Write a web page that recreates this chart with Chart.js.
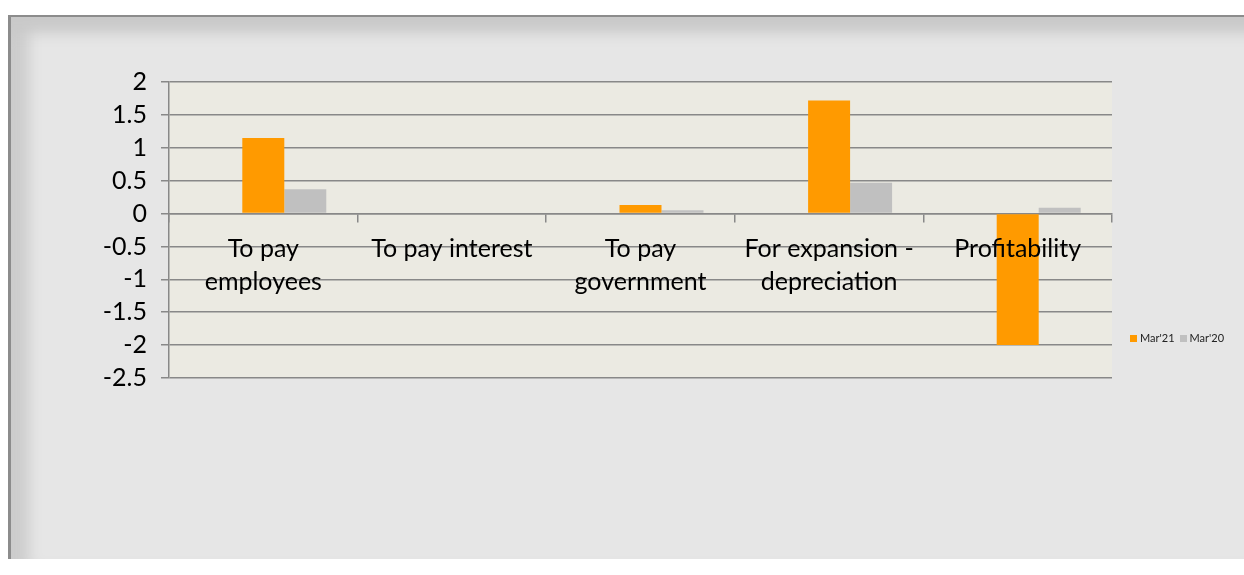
<!DOCTYPE html>
<html>
<head>
<meta charset="utf-8">
<script src="https://cdn.jsdelivr.net/npm/chart.js@4.4.1/dist/chart.umd.min.js"></script>
<style>
  html, body { margin: 0; padding: 0; background: #fff; }
  body { width: 1244px; height: 575px; position: relative; overflow: hidden; }
  #frame {
    position: absolute; left: 8px; top: 15px; width: 1250px; height: 542px;
    background: #e6e6e6;
    border-top: 2px solid #8c8c8c; border-left: 3px solid #8c8c8c;
    box-shadow: inset 0 26px 14px -10px #c9c9c9, inset 28px 0 14px -10px #cdcdcd;
  }
  #wrap { position: absolute; left: 0; top: 0; width: 1244px; height: 575px; }
  #legend {
    position: absolute; left: 1130px; top: 331px;
    font-family: Lato, "Liberation Sans", sans-serif; font-size: 11px; color: #222;
    display: flex; gap: 5px; white-space: nowrap;
  }
  #legend span.box { display: inline-block; width: 7px; height: 7px; margin-right: 3px; }
</style>
</head>
<body>
<div id="frame"></div>
<div id="wrap"><canvas id="c" width="1244" height="575"></canvas></div>
<div id="legend"></div>
<script>
  // values
  const categories = [["To pay", "employees"], "To pay interest", ["To pay", "government"], ["For expansion -", "depreciation"], "Profitability"];
  const mar21 = [1.15, 0, 0.13, 1.72, -2.0];
  const mar20 = [0.37, 0, 0.05, 0.47, 0.09];
  const seriesNames = ["Mar'21", "Mar'20"];
  const colors = ["#ff9a00", "#c0c0c0"];

  const plotBg = {
    id: "plotBg",
    beforeDraw(chart) {
      const a = chart.chartArea, ctx = chart.ctx;
      ctx.save();
      ctx.fillStyle = "#ebeae2";
      ctx.fillRect(a.left, a.top, a.right - a.left, a.bottom - a.top);
      ctx.restore();
    }
  };

  const font = { family: "Lato, 'Liberation Sans', sans-serif", size: 25, lineHeight: 1.32 };

  window.onload = function () {
    const ctx = document.getElementById("c").getContext("2d");
    const chart = new Chart(ctx, {
      type: "bar",
      data: {
        labels: categories,
        datasets: [
          // the original chart keeps an empty first series slot, which pushes the bars right
          { label: "", data: [], backgroundColor: "transparent" },
          { label: seriesNames[0], data: mar21, backgroundColor: colors[0] },
          { label: seriesNames[1], data: mar20, backgroundColor: colors[1] },
        ],
      },
      options: {
        responsive: false,
        animation: false,
        categoryPercentage: 0.668,
        barPercentage: 1.0,
        layout: { padding: { left: 0, top: 82, right: 132, bottom: 197 } },
        plugins: { legend: { display: false }, tooltip: { enabled: false } },
        scales: {
          x: {
            position: { y: 0 },
            grid: { drawOnChartArea: false, color: "#888", lineWidth: 1.5, tickLength: 8 },
            border: { color: "#888", width: 1.5 },
            ticks: { z: 1, color: "#000", font: font, padding: 11, maxRotation: 0, autoSkip: false },
          },
          y: {
            min: -2.5,
            max: 2,
            afterFit(scale) { scale.width = 169; },
            ticks: { stepSize: 0.5, autoSkip: false, color: "#000", font: font, padding: 14, callback: (v) => String(v) },
            grid: { color: "#888", lineWidth: 1.5, tickLength: 8 },
            border: { color: "#888", width: 1.5 },
          },
        },
      },
      plugins: [plotBg],
    });

    const leg = document.getElementById("legend");
    chart.data.datasets.forEach(function (ds) {
      if (!ds.label) return;
      const item = document.createElement("span");
      item.innerHTML = '<span class="box" style="background:' + ds.backgroundColor + '"></span>' + ds.label;
      leg.appendChild(item);
    });
  };
</script>
</body>
</html>
